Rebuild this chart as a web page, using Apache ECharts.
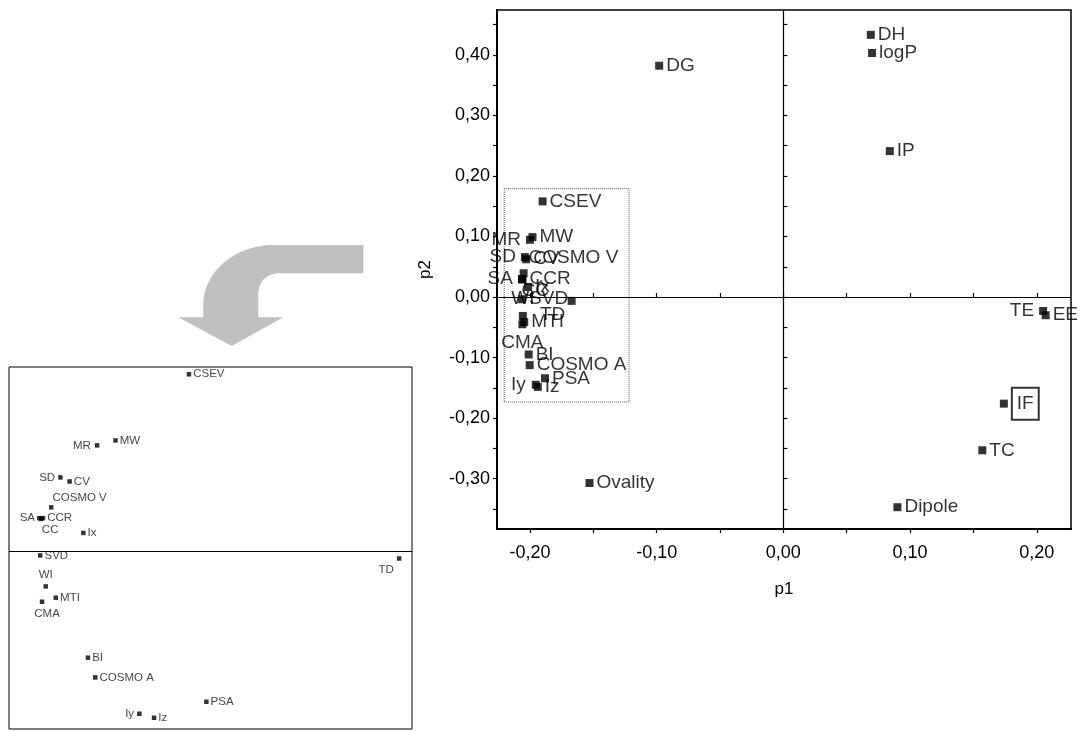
<!DOCTYPE html>
<html>
<head>
<meta charset="utf-8">
<script src="https://cdn.jsdelivr.net/npm/echarts@6/dist/echarts.min.js"></script>
<style>
  html, body { margin: 0; padding: 0; background: #fff; }
  #chart { width: 1082px; height: 731px; }
</style>
</head>
<body>
<div id="chart"></div>
<script>
// Loading plot of the descriptors on the first two components
const names = ['DG', 'DH', 'logP', 'IP', 'CSEV', 'MW', 'MR', 'SD', 'CV', 'COSMO V',
  'SA', 'CCR', 'CC', 'Ix', 'SVD', 'TD', 'WI', 'MTI', 'CMA', 'BI',
  'COSMO A', 'PSA', 'Iy', 'Iz', 'Ovality', 'Dipole', 'TC', 'IF', 'TE', 'EE'];
const p1 = [-0.098, 0.069, 0.070, 0.084, -0.190, -0.198, -0.200, -0.204, -0.203, -0.205,
  -0.2063, -0.2059, -0.2061, -0.2015, -0.2062, -0.1671, -0.2056, -0.2045, -0.2060, -0.2010,
  -0.2002, -0.1881, -0.1954, -0.1938, -0.153, 0.090, 0.157, 0.174, 0.205, 0.207];
const p2 = [0.382, 0.433, 0.403, 0.241, 0.158, 0.099, 0.0946, 0.066, 0.0624, 0.0393,
  0.0297, 0.0297, 0.029, 0.0165, -0.0036, -0.0063, -0.0312, -0.0413, -0.0449, -0.0948,
  -0.1124, -0.1341, -0.1448, -0.1484, -0.307, -0.347, -0.253, -0.176, -0.023, -0.030];

// Descriptors shown again, enlarged, in the lower-left panel
const insetNames = ['CSEV', 'MW', 'MR', 'SD', 'CV', 'COSMO V', 'SA', 'CCR', 'CC', 'Ix',
  'SVD', 'TD', 'WI', 'MTI', 'CMA', 'BI', 'COSMO A', 'PSA', 'Iy', 'Iz'];

// Tick positions and labelled values
const xTicks = [-0.20, -0.15, -0.10, -0.05, 0.00, 0.05, 0.10, 0.15, 0.20];
const xLabels = [-0.20, -0.10, 0.00, 0.10, 0.20];
const yTicks = [-0.35, -0.30, -0.25, -0.20, -0.15, -0.10, -0.05, 0.00, 0.05, 0.10, 0.15, 0.20, 0.25, 0.30, 0.35, 0.40, 0.45];
const yLabels = [-0.30, -0.20, -0.10, 0.00, 0.10, 0.20, 0.30, 0.40];

// Extent of the dotted window around the clustered descriptors
const windowP1 = [-0.2203, -0.1218];
const windowP2 = [0.179, -0.1733];

const FONT = "'Liberation Sans', Arial, Helvetica, sans-serif";
const fmt = v => v.toFixed(2).replace('.', ',');

// Bent grey arrow leading from the dotted window to the enlarged panel
const BentArrow = echarts.graphic.extendShape({
  shape: {},
  buildPath: function (ctx) {
    ctx.moveTo(363.3, 245);
    ctx.lineTo(273, 245);
    ctx.bezierCurveTo(235, 245, 203.3, 272, 203.3, 305);
    ctx.lineTo(203.3, 317.3);
    ctx.lineTo(178.3, 317.3);
    ctx.lineTo(231.7, 346);
    ctx.lineTo(283.3, 317.3);
    ctx.lineTo(258.3, 317.3);
    ctx.lineTo(258.3, 295);
    ctx.bezierCurveTo(258.3, 282, 266, 273.3, 280, 273.3);
    ctx.lineTo(363.3, 273.3);
    ctx.closePath();
  }
});
echarts.graphic.registerShape('bentArrow', BentArrow);

const mainPlace = {
  'MR': { position: 'left', distance: 5 },
  'SD': { position: 'left', distance: 5 },
  'SA': { position: 'left', distance: 5 },
  'Iy': { position: 'left', distance: 6 },
  'TE': { position: 'left', distance: 5 },
  'COSMO V': { position: 'right', distance: 1, offset: [0, -15] },
  'WI': { position: 'top', distance: 4 },
  'CMA': { position: 'bottom', distance: 5 },
  'TD': { position: 'inside', offset: [-19, 14] },
  'CC': { position: 'inside', offset: [13, 11] },
  'IF': { position: 'right', distance: 4, borderColor: '#000', borderWidth: 2, padding: [7, 5, 6, 5] }
};
const insetPlace = {
  'MR': { position: 'left', distance: 4 },
  'SD': { position: 'left', distance: 3 },
  'SA': { position: 'left', distance: 2 },
  'Iy': { position: 'left', distance: 3 },
  'COSMO V': { position: 'right', distance: -1, offset: [0, -9.5] },
  'WI': { position: 'top', distance: 3 },
  'CMA': { position: 'inside', offset: [5, 12] },
  'TD': { position: 'inside', offset: [-13, 11] },
  'CC': { position: 'inside', offset: [9, 11] }
};

const mainData = names.map((n, i) => ({
  name: n,
  value: [p1[i], p2[i]],
  label: Object.assign({ position: 'right', distance: 3 }, mainPlace[n] || {})
}));
const insetData = insetNames.map(n => {
  const i = names.indexOf(n);
  return {
    name: n,
    value: [p1[i], p2[i]],
    label: Object.assign({ position: 'right', distance: 2 }, insetPlace[n] || {})
  };
});

const tickLabel = { fontFamily: FONT, fontSize: 18, color: '#000' };

const chart = echarts.init(document.getElementById('chart'), null, { renderer: 'canvas' });
chart.setOption({
  animation: false,
  backgroundColor: '#fff',
  grid: [
    { left: 497, top: 10, right: 11, bottom: 202, show: true, borderColor: '#000', borderWidth: 1.5, containLabel: false },
    { left: 9, top: 367, width: 403, height: 362, show: true, borderColor: '#000', borderWidth: 1, containLabel: false }
  ],
  xAxis: [
    {
      gridIndex: 0, type: 'value', min: -0.226, max: 0.227,
      name: 'p1', nameLocation: 'middle', nameGap: 52,
      nameTextStyle: { fontFamily: FONT, fontSize: 17, color: '#000' },
      axisLine: { onZero: false, lineStyle: { color: '#000', width: 2 } },
      axisTick: { show: true, inside: false, length: 4, customValues: xTicks, lineStyle: { color: '#000', width: 1.2 } },
      axisLabel: Object.assign({ customValues: xLabels, formatter: fmt, margin: 15 }, tickLabel),
      splitLine: { show: false }
    },
    {
      gridIndex: 0, type: 'value', min: -0.226, max: 0.227, position: 'bottom',
      axisLine: { show: false },
      axisTick: { show: true, inside: true, length: 4, customValues: xTicks, lineStyle: { color: '#000', width: 1.2 } },
      axisLabel: { show: false },
      splitLine: { show: false }
    },
    { gridIndex: 1, type: 'value', min: -0.2096, max: -0.1657, show: false, splitLine: { show: false } }
  ],
  yAxis: [
    {
      gridIndex: 0, type: 'value', min: -0.383, max: 0.474,
      name: 'p2', nameLocation: 'middle', nameGap: 63,
      nameTextStyle: { fontFamily: FONT, fontSize: 17, color: '#000' },
      axisLine: { onZero: false, lineStyle: { color: '#000', width: 2 } },
      axisTick: { show: true, inside: false, length: 4, customValues: yTicks, lineStyle: { color: '#000', width: 1.2 } },
      axisLabel: Object.assign({ customValues: yLabels, formatter: fmt, margin: 7 }, tickLabel),
      splitLine: { show: false }
    },
    {
      gridIndex: 0, type: 'value', min: -0.383, max: 0.474, position: 'left',
      axisLine: { show: false },
      axisTick: { show: true, inside: true, length: 4, customValues: yTicks, lineStyle: { color: '#000', width: 1.2 } },
      axisLabel: { show: false },
      splitLine: { show: false }
    },
    { gridIndex: 1, type: 'value', min: -0.1584, max: 0.1645, show: false, splitLine: { show: false } }
  ],
  graphic: [
    {
      type: 'bentArrow',
      silent: true,
      style: { fill: '#c0c0c0' }
    }
  ],
  series: [
    {
      type: 'scatter',
      xAxisIndex: 0, yAxisIndex: 0,
      symbol: 'rect', symbolSize: 8,
      itemStyle: { color: '#000' },
      label: { show: true, formatter: '{b}', fontFamily: FONT, fontSize: 19, color: '#000' },
      data: mainData,
      markLine: {
        silent: true, symbol: ['none', 'none'], animation: false,
        label: { show: false },
        lineStyle: { color: '#000', width: 1.2, type: 'solid' },
        data: [{ xAxis: 0 }, { yAxis: 0 }]
      },
      markArea: {
        silent: true,
        itemStyle: { color: 'rgba(0,0,0,0)', borderColor: '#555', borderWidth: 1, borderType: 'dotted' },
        data: [[{ coord: [windowP1[0], windowP2[0]] }, { coord: [windowP1[1], windowP2[1]] }]]
      },
      z: 3
    },
    {
      type: 'scatter',
      xAxisIndex: 2, yAxisIndex: 2,
      symbol: 'rect', symbolSize: 4.5,
      itemStyle: { color: '#000' },
      label: { show: true, formatter: '{b}', fontFamily: FONT, fontSize: 11.5, color: '#111' },
      data: insetData,
      markLine: {
        silent: true, symbol: ['none', 'none'], animation: false,
        label: { show: false },
        lineStyle: { color: '#000', width: 1.2, type: 'solid' },
        data: [{ yAxis: 0 }]
      },
      z: 3
    }
  ]
});
</script>
</body>
</html>
